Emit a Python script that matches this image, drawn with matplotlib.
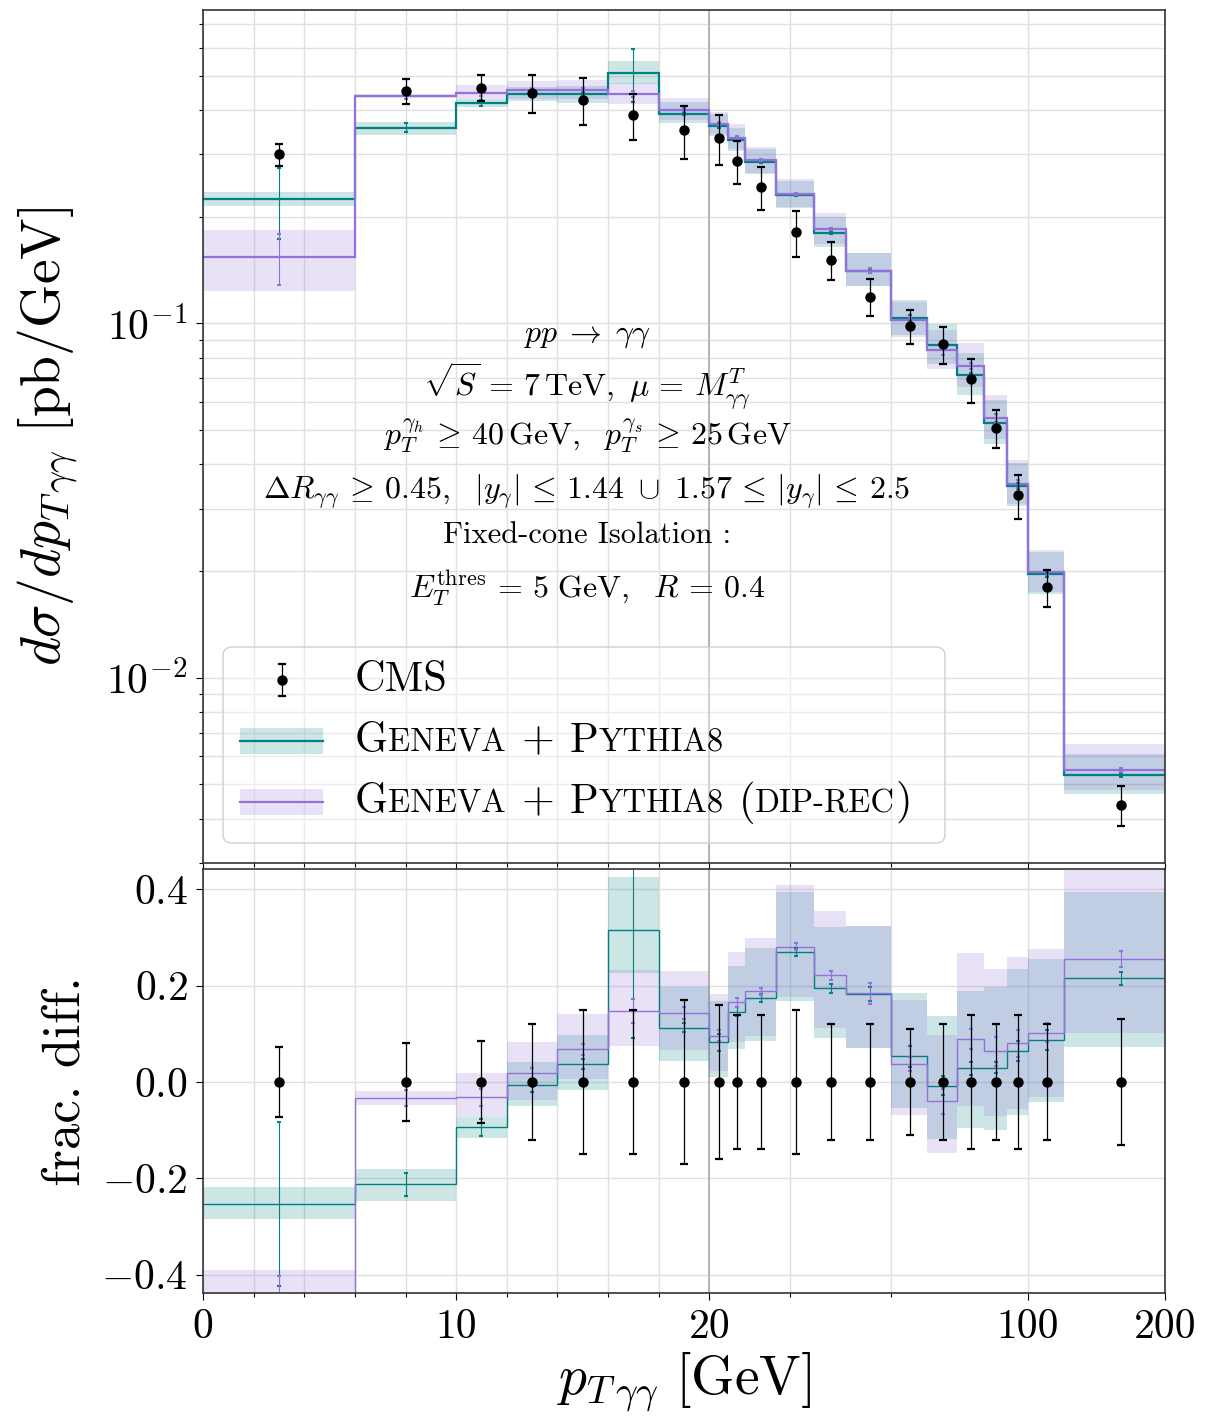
import numpy as np
import matplotlib
matplotlib.use("Agg")
import matplotlib.pyplot as plt
from matplotlib.offsetbox import AnchoredOffsetbox, HPacker, TextArea
from matplotlib.patches import FancyBboxPatch, Rectangle
from matplotlib.ticker import FixedLocator, FuncFormatter, NullFormatter

plt.rcParams["font.family"] = "serif"
plt.rcParams["font.serif"] = ["cmr10"]
plt.rcParams["mathtext.fontset"] = "cm"
plt.rcParams["axes.formatter.use_mathtext"] = True

# diphoton transverse momentum binning [GeV]
edges = np.array([0, 6, 10, 12, 14, 16, 18, 20, 22, 24, 28, 34, 40,
                  50, 60, 70, 80, 90, 100, 120, 200], dtype=float)
centres = 0.5 * (edges[1:] + edges[:-1])

# CMS 7 TeV data [pb/GeV] and its relative uncertainty
cms = np.array([0.300, 0.453, 0.462, 0.447, 0.427, 0.387, 0.351, 0.334,
                0.287, 0.243, 0.181, 0.151, 0.119, 0.0983, 0.0874,
                0.0695, 0.0507, 0.0327, 0.0180, 0.00438])
cms_err = np.array([0.072, 0.081, 0.085, 0.12, 0.15, 0.15, 0.17, 0.16,
                    0.14, 0.14, 0.15, 0.12, 0.12, 0.11, 0.12, 0.14,
                    0.12, 0.14, 0.12, 0.13])

# GENEVA + PYTHIA8: fractional difference to data, scale band, MC stat error
gen = np.array([-0.253, -0.2125, -0.094, -0.007, 0.037, 0.316, 0.113, 0.082,
                0.146, 0.174, 0.270, 0.194, 0.183, 0.053, -0.008, 0.028,
                0.030, 0.064, 0.087, 0.215])
gen_lo = np.array([-0.285, -0.248, -0.116, -0.049, -0.017, 0.226, 0.044, 0.011,
                   0.068, 0.086, 0.169, 0.091, 0.070, -0.055, -0.119, -0.096,
                   -0.100, -0.069, -0.041, 0.073])
gen_hi = np.array([-0.218, -0.181, -0.072, 0.042, 0.098, 0.425, 0.198, 0.168,
                   0.240, 0.279, 0.395, 0.321, 0.324, 0.184, 0.136, 0.189,
                   0.198, 0.235, 0.255, 0.395])
gen_stat = np.array([0.170, 0.024, 0.018, 0.014, 0.010, 0.225, 0.010, 0.018,
                     0.010, 0.008, 0.009, 0.010, 0.015, 0.022, 0.020, 0.014,
                     0.012, 0.020, 0.020, 0.014])

# GENEVA + PYTHIA8 with dipole recoil
dip = np.array([-0.488, -0.033, -0.032, 0.018, 0.068, 0.147, 0.143, 0.096,
                0.165, 0.188, 0.281, 0.221, 0.184, 0.037, -0.040, 0.089,
                0.064, 0.080, 0.102, 0.255])
dip_lo = np.array([-0.590, -0.048, -0.072, -0.037, 0.006, 0.075, 0.066, 0.0235,
                   0.082, 0.096, 0.177, 0.111, 0.070, -0.069, -0.148, -0.049,
                   -0.070, -0.057, -0.031, 0.101])
dip_hi = np.array([-0.390, -0.019, 0.018, 0.083, 0.141, 0.232, 0.230, 0.182,
                   0.270, 0.298, 0.409, 0.355, 0.324, 0.170, 0.098, 0.267,
                   0.235, 0.259, 0.276, 0.480])
dip_stat = np.array([0.085, 0.016, 0.017, 0.012, 0.011, 0.025, 0.012, 0.011,
                     0.010, 0.008, 0.008, 0.010, 0.022, 0.014, 0.026, 0.021,
                     0.030, 0.028, 0.020, 0.017])

TEAL = "#008080"
PURPLE = "#9370db"

W, H = 1224, 1417
fig = plt.figure(figsize=(W / 100, H / 100), dpi=100)
ax1 = fig.add_axes([203 / W, 1 - 863 / H, 962 / W, 853 / H])
ax2 = fig.add_axes([203 / W, 1 - 1293 / H, 962 / W, 424 / H])

models = [(gen, gen_lo, gen_hi, gen_stat, TEAL),
          (dip, dip_lo, dip_hi, dip_stat, PURPLE)]

# uncertainty bands first, central lines on top
for frac, lo, hi, stat, col in models:
    ax1.stairs(cms * (1 + hi), edges, baseline=cms * (1 + lo), fill=True,
               color=col, alpha=0.2, lw=0)
    ax2.stairs(hi, edges, baseline=lo, fill=True, color=col, alpha=0.2, lw=0)
for frac, lo, hi, stat, col in models:
    ax1.stairs(cms * (1 + frac), edges, baseline=None, color=col, lw=1.6)
    ax1.errorbar(centres, cms * (1 + frac), yerr=cms * stat, fmt="none",
                 ecolor=col, elinewidth=0.8, capsize=1.5, capthick=1.5)
    ax2.stairs(frac, edges, baseline=None, color=col, lw=1.0)
    ax2.errorbar(centres, frac, yerr=stat, fmt="none",
                 ecolor=col, elinewidth=0.8, capsize=1.5, capthick=1.5)

ax1.errorbar(centres, cms, yerr=cms * cms_err, fmt="o", color="black",
             ms=6.5, elinewidth=0.9, capsize=3, capthick=1.6, zorder=6)
ax2.errorbar(centres, np.zeros_like(cms), yerr=cms_err, fmt="o", color="black",
             ms=6.5, elinewidth=0.9, capsize=3, capthick=1.6, zorder=6)

for ax in (ax1, ax2):
    ax.set_xscale("symlog", linthresh=20, linscale=1)
    ax.set_xlim(0, 200)
    ax.set_xticks([0, 10, 20, 100, 200], labels=["0", "10", "20", "100", "200"])
    ax.xaxis.set_minor_locator(FixedLocator([2, 4, 6, 8, 12, 14, 16, 18, 30, 50]))
    ax.xaxis.set_minor_formatter(NullFormatter())
    ax.grid(True, which="both", color="#e0e0e0", lw=1.0)
    ax.set_axisbelow(True)
    ax.axvline(20, color="#aaaaaa", lw=1.2, zorder=0.8)
    ax.tick_params(which="major", length=5, width=0.8, labelsize=30, pad=6)
    ax.tick_params(which="minor", length=3, width=0.8)
    for s in ax.spines.values():
        s.set_linewidth(1.2)
        s.set_color("#333333")

ax1.set_yscale("log")
ax1.set_ylim(0.0030, 0.766)
ax1.yaxis.set_major_formatter(
    FuncFormatter(lambda v, p: r"$\mathrm{10^{%d}}$" % round(np.log10(v))))
ax1.yaxis.set_minor_formatter(NullFormatter())
ax1.tick_params(axis="x", labelbottom=False)

ax2.set_ylim(-0.438, 0.442)
ax2.set_yticks([-0.4, -0.2, 0.0, 0.2, 0.4])
ax2.yaxis.set_major_formatter(FuncFormatter(lambda v, p: r"$\mathrm{%.1f}$" % v))

ax1.set_ylabel(r"$d\sigma/dp_{T\,\gamma\gamma}\ [\mathrm{pb/GeV}]$", fontsize=40)
ax1.yaxis.set_label_coords(-0.127, 0.5)
ax2.set_ylabel("frac. diff.", fontsize=38)
ax2.yaxis.set_label_coords(-0.118, 0.5)
ax2.set_xlabel(r"$p_{T\,\gamma\gamma}\ [\mathrm{GeV}]$", fontsize=40)
ax2.xaxis.set_label_coords(0.5, -0.137)

# process and cuts
info = [
    (r"$pp\; \rightarrow\; \gamma\gamma$", 0.6111),
    (r"$\sqrt{S}\, =\, \mathrm{7\,TeV},\ \mu\, =\, M_{\gamma\gamma}^{T}$", 0.5463),
    (r"$p_T^{\gamma_h}\, \geq\, \mathrm{40\,GeV},\ \ p_T^{\gamma_s}\, \geq\, \mathrm{25\,GeV}$", 0.4900),
    (r"$\Delta R_{\gamma\gamma}\, \geq\, \mathrm{0.45},\ \ |y_\gamma|\, \leq\, \mathrm{1.44}"
     r"\ \cup\ \mathrm{1.57}\, \leq\, |y_\gamma|\, \leq\, \mathrm{2.5}$", 0.4276),
    ("Fixed-cone Isolation :", 0.3748),
    (r"$E_T^{\mathrm{thres}}\, =\, \mathrm{5\ GeV},\ \ R\, =\, \mathrm{0.4}$", 0.3103),
]
for s, y in info:
    ax1.text(0.399, y, s, transform=ax1.transAxes, ha="center", va="baseline",
             fontsize=22 if s[0] != "$" else 23)

# legend with small-caps generator names
LEG_BIG, LEG_SMALL = 30.5, 23.5


def txt(s, size):
    return TextArea(s, textprops=dict(fontsize=size))


def small_caps(word):
    return HPacker(children=[txt(word[0], LEG_BIG), txt(word[1:].upper(), LEG_SMALL)],
                   align="baseline", pad=0, sep=0)


def generator_label(diprec=False):
    parts = [small_caps("Geneva"), txt("+", LEG_BIG), small_caps("Pythia8")]
    if diprec:
        parts.append(HPacker(children=[txt("(", LEG_BIG), txt("DIP-REC", LEG_SMALL),
                                       txt(")", LEG_BIG)],
                             align="baseline", pad=0, sep=0))
    return parts


ax1.add_patch(FancyBboxPatch((0.0208, 0.0234), 0.7505, 0.2298,
                             boxstyle="round,pad=0,rounding_size=0.01",
                             transform=ax1.transAxes, facecolor=(1, 1, 1, 0.4),
                             edgecolor="#cfcfcf", lw=1.0, zorder=4, clip_on=False))

row_y = [0.2145, 0.1430, 0.0715]
rows = [[txt("CMS", LEG_BIG)], generator_label(), generator_label(True)]
for row, yr in zip(rows, row_y):
    box = HPacker(children=row, align="baseline", pad=0, sep=11)
    ax1.add_artist(AnchoredOffsetbox(loc="center left", child=box, pad=0,
                                     borderpad=0, frameon=False,
                                     bbox_to_anchor=(0.158, yr),
                                     bbox_transform=ax1.transAxes))

# legend handles
hx0, hx1, hxc = 0.0385, 0.1247, 0.0821
yr = row_y[0]
ax1.plot([hxc, hxc], [yr - 0.0188, yr + 0.0188], transform=ax1.transAxes,
         color="black", lw=0.9, zorder=6, clip_on=False)
for yc in (yr - 0.0188, yr + 0.0188):
    ax1.plot([hxc - 0.0035, hxc + 0.0035], [yc, yc], transform=ax1.transAxes,
             color="black", lw=1.6, zorder=6, clip_on=False)
ax1.plot([hxc], [yr], "o", color="black", ms=6.5, transform=ax1.transAxes,
         zorder=6, clip_on=False)
for col, yr in zip((TEAL, PURPLE), row_y[1:]):
    ax1.add_patch(Rectangle((hx0, yr - 0.0158), hx1 - hx0, 0.0316,
                            transform=ax1.transAxes, color=col, alpha=0.2,
                            lw=0, zorder=5))
    ax1.plot([hx0, hx1], [yr, yr], transform=ax1.transAxes, color=col,
             lw=1.6, zorder=5)

ax1.set_xlim(0, 200)
ax1.set_ylim(0.0030, 0.766)
fig.savefig("out.png", dpi=100)
